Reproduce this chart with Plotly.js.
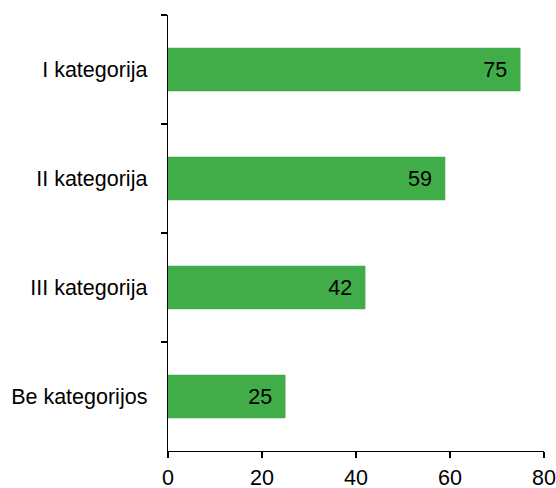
<!DOCTYPE html>
<html>
<head>
<meta charset="utf-8">
<script src="https://cdn.plot.ly/plotly-3.0.1.min.js"></script>
<style>html,body{margin:0;padding:0;background:#fff;}#chart{width:556px;height:488px;}</style>
</head>
<body>
<div id="chart"></div>
<script>
const categories = ["I kategorija", "II kategorija", "III kategorija", "Be kategorijos"];
const values = [75, 59, 42, 25];
const xTicks = [0, 20, 40, 60, 80];

const trace = {
  type: "bar",
  orientation: "h",
  y: categories,
  x: values,
  width: 0.4,
  marker: {color: "#41ad49"},
  text: values.map(v => v + "\u00a0\u2009"),
  textposition: "inside",
  insidetextanchor: "end",
  textfont: {family: "Liberation Sans, Arial, sans-serif", size: 21.5, color: "#000"},
  hoverinfo: "none"
};

const layout = {
  width: 556, height: 488,
  margin: {l: 168, r: 12, t: 15, b: 37},
  paper_bgcolor: "#fff", plot_bgcolor: "#fff",
  showlegend: false,
  font: {family: "Liberation Sans, Arial, sans-serif", size: 21.5, color: "#000"},
  xaxis: {
    range: [0, 80], tickvals: xTicks, ticktext: xTicks.map(String),
    showgrid: false, zeroline: false, showline: true, linecolor: "#000", linewidth: 1.3,
    ticks: "outside", ticklen: 6, tickcolor: "#000", tickwidth: 1.3,
    tickfont: {size: 21.5}, ticklabelstandoff: 1, fixedrange: true
  },
  yaxis: {
    type: "category", autorange: "reversed",
    showgrid: false, zeroline: false, showline: true, linecolor: "#000", linewidth: 1.3,
    ticks: "outside", tickson: "boundaries", ticklen: 6, tickcolor: "#000", tickwidth: 1.3,
    tickfont: {size: 21.5}, ticklabelstandoff: 15, fixedrange: true
  },
  bargap: 0.6
};

Plotly.newPlot("chart", [trace], layout, {displayModeBar: false, staticPlot: true});
</script>
</body>
</html>
